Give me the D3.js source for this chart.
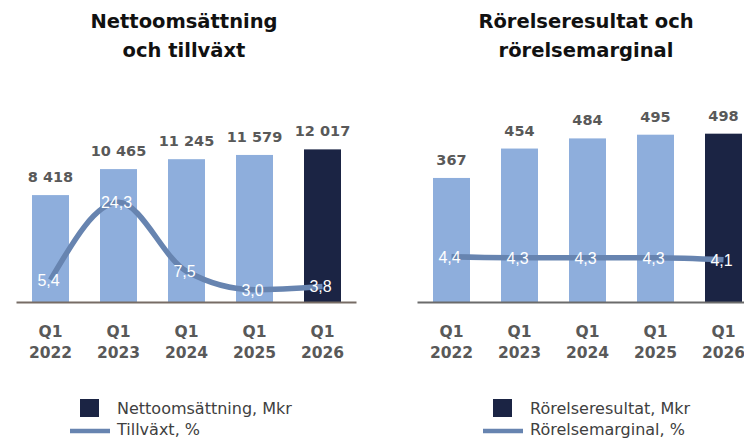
<!DOCTYPE html>
<html>
<head>
<meta charset="utf-8">
<script src="https://cdn.jsdelivr.net/npm/d3@7"></script>
<style>
  html, body { margin: 0; padding: 0; background: #fff; }
  svg { display: block; }
</style>
</head>
<body>
<svg id="chart" width="744" height="439"></svg>
<script>
// Data
const quarters = ["Q1 2022", "Q1 2023", "Q1 2024", "Q1 2025", "Q1 2026"];
const netSales = [8418, 10465, 11245, 11579, 12017];
const growth = [5.4, 24.3, 7.5, 3.0, 3.8];
const opResult = [367, 454, 484, 495, 498];
const opMargin = [4.4, 4.3, 4.3, 4.3, 4.1];

const leftTitle = ["Nettoomsättning", "och tillväxt"];
const rightTitle = ["Rörelseresultat och", "rörelsemarginal"];
const leftLegend = ["Nettoomsättning, Mkr", "Tillväxt, %"];
const rightLegend = ["Rörelseresultat, Mkr", "Rörelsemarginal, %"];

const LIGHT = "#8eaedc";
const DARK = "#1b2444";
const LINE = "#6784b0";
const TEXT = "#595959";
const FONT = "'DejaVu Sans', sans-serif";

const svg = d3.select("#chart");
const fmtNum = d3.formatLocale({ decimal: ",", thousands: " ", grouping: [3], currency: ["", ""] }).format(",");
const fmtPct = v => v.toFixed(1).replace(".", ",");

function drawPanel(o) {
  const g = svg.append("g");
  const base = 302;

  const x = d3.scaleBand()
    .domain(quarters)
    .range([o.x0, o.x0 + 340])
    .paddingInner(0.456)
    .paddingOuter(0.228);

  const y = d3.scaleLinear().domain(o.barDomain).range([base, o.barTop]);
  const yl = d3.scaleLinear().domain(o.lineDomain).range([base, o.lineTop]);

  // title
  g.append("text")
    .attr("x", o.titleX).attr("y", 28)
    .attr("text-anchor", "middle")
    .attr("font-family", FONT)
    .attr("font-weight", 700)
    .attr("font-size", "19.5px")
    .attr("fill", "#111")
    .selectAll("tspan")
    .data(o.title).join("tspan")
    .attr("x", o.titleX)
    .attr("dy", (d, i) => i === 0 ? 0 : 29)
    .text(d => d);

  // bars
  g.append("g").selectAll("rect")
    .data(o.bars).join("rect")
    .attr("x", (d, i) => x(quarters[i]))
    .attr("y", d => y(d))
    .attr("width", x.bandwidth())
    .attr("height", d => base - y(d))
    .attr("fill", (d, i) => i === quarters.length - 1 ? DARK : LIGHT);

  // baseline
  g.append("line")
    .attr("x1", o.x0).attr("x2", Math.min(o.x0 + 340, 744))
    .attr("y1", base + 0.5).attr("y2", base + 0.5)
    .attr("stroke", o.axisColor)
    .attr("stroke-width", 2);

  // line
  const pts = o.line.map((v, i) => [x(quarters[i]) + x.bandwidth() / 2, yl(v)]);
  g.append("path")
    .attr("d", d3.line().curve(d3.curveMonotoneX)(pts))
    .attr("fill", "none")
    .attr("stroke", LINE)
    .attr("stroke-width", 5.5);

  // line labels
  g.append("g").selectAll("text")
    .data(o.line).join("text")
    .attr("x", (d, i) => pts[i][0] - 2)
    .attr("y", (d, i) => pts[i][1] + 6)
    .attr("text-anchor", "middle")
    .attr("font-family", "'Liberation Sans', Arial, sans-serif")
    .attr("font-size", "16px")
    .attr("fill", "#fff")
    .text(d => fmtPct(d));

  // value labels
  g.append("g").selectAll("text")
    .data(o.bars).join("text")
    .attr("x", (d, i) => x(quarters[i]) + x.bandwidth() / 2)
    .attr("y", d => y(d) - 13)
    .attr("text-anchor", "middle")
    .attr("font-family", FONT)
    .attr("font-weight", 700)
    .attr("font-size", "14.5px")
    .attr("fill", TEXT)
    .text(d => fmtNum(d));

  // x labels
  const xl = g.append("g").selectAll("text")
    .data(quarters).join("text")
    .attr("text-anchor", "middle")
    .attr("font-family", FONT)
    .attr("font-weight", 700)
    .attr("font-size", "15.5px")
    .attr("fill", TEXT);
  xl.selectAll("tspan")
    .data(d => d.split(" ").map(s => ({ s, q: d })))
    .join("tspan")
    .attr("x", d => x(d.q) + x.bandwidth() / 2)
    .attr("y", (d, i) => i === 0 ? 337 : 358)
    .text(d => d.s);

  // legend
  const lg = g.append("g").attr("transform", `translate(${o.legendX},0)`);
  lg.append("rect").attr("x", 10).attr("y", 399).attr("width", 19).attr("height", 18).attr("fill", DARK);
  lg.append("line").attr("x1", 0).attr("x2", 40).attr("y1", 431).attr("y2", 431)
    .attr("stroke", LINE).attr("stroke-width", 4.5);
  lg.selectAll("text.leg")
    .data(o.legend).join("text")
    .attr("class", "leg")
    .attr("x", 47)
    .attr("y", (d, i) => i === 0 ? 414 : 435)
    .attr("font-family", FONT)
    .attr("font-size", "16px")
    .attr("fill", "#404040")
    .text(d => d);
}

drawPanel({
  x0: 16.5, titleX: 184,
  title: leftTitle, legend: leftLegend, legendX: 70,
  bars: netSales, barDomain: [0, 14000], barTop: 302 - 14000 * 0.0127,
  line: growth, lineDomain: [0, 30], lineTop: 302 - 30 * 4.1,
  axisColor: "#776c65"
});

drawPanel({
  x0: 417.5, titleX: 586,
  title: rightTitle, legend: rightLegend, legendX: 483,
  bars: opResult, barDomain: [0, 600], barTop: 302 - 600 * 0.338,
  line: opMargin, lineDomain: [0, 10], lineTop: 302 - 10 * 10.3,
  axisColor: "#6b6b6b"
});
</script>
</body>
</html>
